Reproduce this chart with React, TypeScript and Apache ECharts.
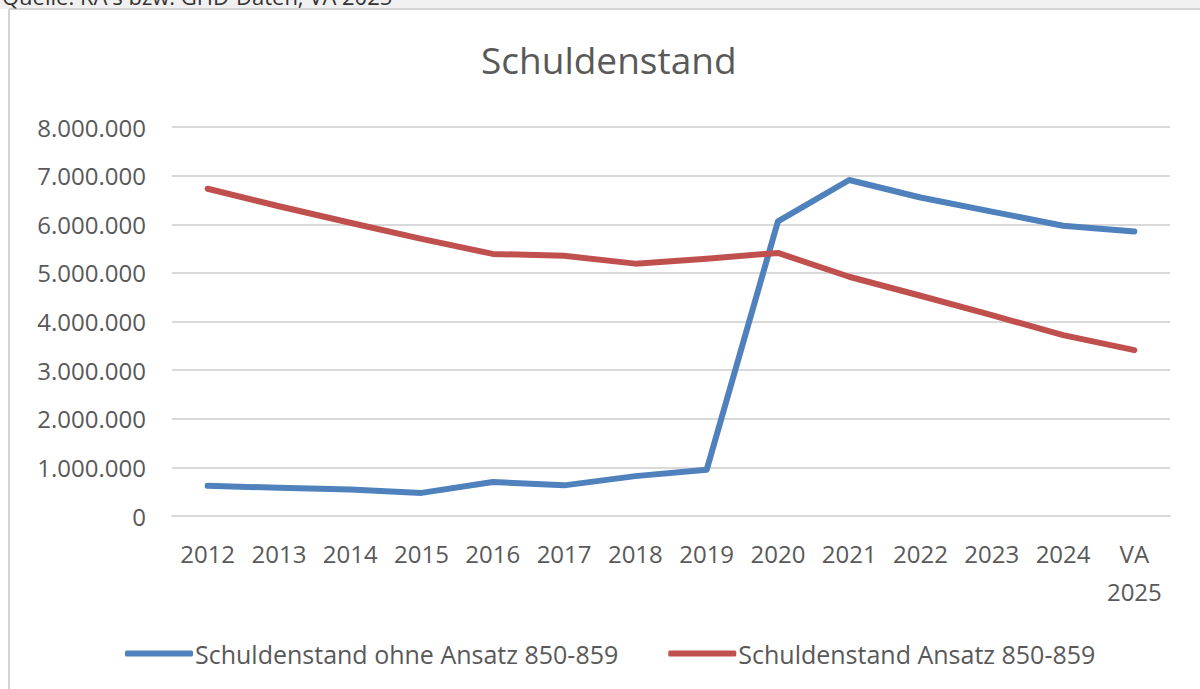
import React, { useEffect, useRef } from "react";
import * as echarts from "echarts";

const categories = ["2012", "2013", "2014", "2015", "2016", "2017", "2018", "2019", "2020", "2021", "2022", "2023", "2024", "VA\n2025"];
const ohneAnsatz = [620000, 580000, 545000, 475000, 700000, 630000, 820000, 950000, 6060000, 6910000, 6550000, 6260000, 5970000, 5850000];
const mitAnsatz = [6730000, 6370000, 6030000, 5700000, 5390000, 5350000, 5190000, 5290000, 5410000, 4920000, 4530000, 4130000, 3720000, 3410000];
const seriesNames = ["Schuldenstand ohne Ansatz 850-859", "Schuldenstand Ansatz 850-859"];
const titleText = "Schuldenstand";
const sourceText = "Quelle: RA's bzw. GHD-Daten, VA 2025";

const FONT = "'Open Sans', 'Noto Sans', sans-serif";
const TEXT = "#595959";

function fmt(v: number): string {
  return String(Math.round(v)).replace(/\B(?=(\d{3})+(?!\d))/g, ".");
}

export default function App() {
  const ref = useRef<HTMLDivElement>(null);
  useEffect(() => {
    document.body.style.margin = "0";
    const chart = echarts.init(ref.current!, undefined, { renderer: "svg" });
    chart.setOption({
      animation: false,
      backgroundColor: "#ffffff",
      textStyle: { fontFamily: FONT },
      title: {
        text: titleText,
        left: 476,
        top: 36,
        textStyle: { fontFamily: FONT, fontSize: 37, fontWeight: "normal", color: TEXT },
      },
      graphic: [
        { type: "rect", shape: { x: 0, y: 0, width: 1200, height: 9 }, style: { fill: "#f0f0f0" }, z: 100 },
        {
          type: "text",
          x: 2,
          y: 7,
          style: { text: sourceText, fontFamily: FONT, fontSize: 22, fill: "#333333", textVerticalAlign: "bottom" },
          z: 101,
        },
        { type: "line", shape: { x1: 9, y1: 9, x2: 1200, y2: 9 }, style: { stroke: "#d4d4d4", lineWidth: 2 }, z: 100 },
        { type: "line", shape: { x1: 9, y1: 9, x2: 9, y2: 689 }, style: { stroke: "#d4d4d4", lineWidth: 2 }, z: 100 },
      ],
      legend: {
        left: 120,
        top: 636,
        itemWidth: 68,
        itemHeight: 6,
        itemGap: 50,
        icon: "roundRect",
        textStyle: { fontFamily: FONT, fontSize: 25, color: TEXT, padding: [0, 0, 0, -3] },
        data: seriesNames,
      },
      grid: { left: 172, right: 30, top: 127, bottom: 173 },
      xAxis: {
        type: "category",
        data: categories,
        boundaryGap: true,
        axisLine: { show: true, lineStyle: { color: "#d9d9d9", width: 2 } },
        axisTick: { show: false },
        axisLabel: { fontFamily: FONT, fontSize: 24, color: TEXT, margin: 18, lineHeight: 38, interval: 0 },
      },
      yAxis: {
        type: "value",
        min: 0,
        max: 8000000,
        interval: 1000000,
        axisLine: { show: false },
        axisTick: { show: false },
        splitLine: { lineStyle: { color: "#d9d9d9", width: 2 } },
        axisLabel: { fontFamily: FONT, fontSize: 24, color: TEXT, margin: 26, formatter: (v: number) => fmt(v) },
      },
      series: [
        {
          name: seriesNames[0],
          type: "line",
          data: ohneAnsatz,
          showSymbol: false,
          symbol: "none",
          lineStyle: { color: "#4f81bd", width: 6, cap: "round", join: "round" },
          itemStyle: { color: "#4f81bd" },
        },
        {
          name: seriesNames[1],
          type: "line",
          data: mitAnsatz,
          showSymbol: false,
          symbol: "none",
          lineStyle: { color: "#c0504d", width: 6, cap: "round", join: "round" },
          itemStyle: { color: "#c0504d" },
        },
      ],
    });
    return () => chart.dispose();
  }, []);
  return <div ref={ref} style={{ width: 1200, height: 689 }} />;
}
